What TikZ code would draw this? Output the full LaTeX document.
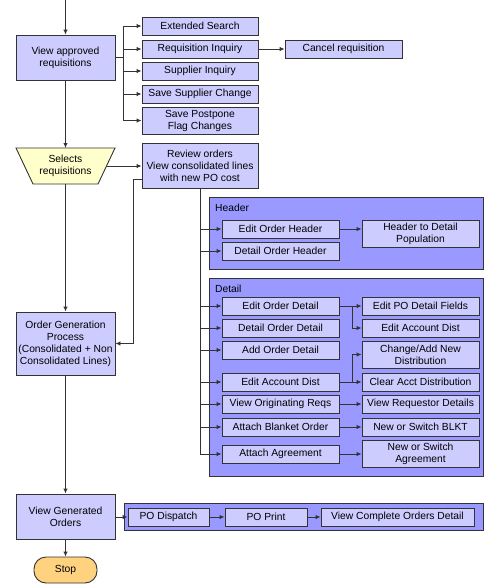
\documentclass[tikz,border=0pt]{standalone}
\usepackage{fontspec}
\setmainfont{Liberation Sans}
\usetikzlibrary{arrows.meta}
\definecolor{linec}{HTML}{333333}
\definecolor{boxfill}{HTML}{CCCCFF}
\definecolor{panelfill}{HTML}{9999FF}
\definecolor{selfill}{HTML}{FFFFCC}
\definecolor{stopfill}{HTML}{FFD280}
\tikzset{
  bx/.style={draw=linec, fill=boxfill, line width=0.9pt, inner sep=1pt, align=center,
    font=\fontsize{10.3}{12}\selectfont, minimum width=117pt, minimum height=18pt},
  panel/.style={draw=linec, fill=panelfill, line width=0.9pt},
  plabel/.style={anchor=west, inner sep=0pt, font=\fontsize{10.3}{12}\selectfont},
  arr/.style={draw=linec, line width=0.9pt, -{Latex[length=5pt,width=4.5pt]}},
  ln/.style={draw=linec, line width=0.9pt},
}
\begin{document}
\begin{tikzpicture}[x=1pt,y=-1pt]
\useasboundingbox (0,0) rectangle (485,587);
% panels
\draw[panel] (209,197) rectangle (483,269);
\node[plabel] (hlab) at (215,208) {Header};
\draw[panel] (209,278) rectangle (483,476);
\node[plabel] (dlab) at (215,289) {Detail};
\draw[panel] (124,503) rectangle (483,530);
% main column
\node[bx, minimum width=99pt, minimum height=45pt] (var) at (65.5,57.5) {View approved\\requisitions};
\draw[ln, fill=selfill] (16,148) -- (115,148) -- (98,184) -- (33,184) -- cycle;
\node[align=center, font=\fontsize{10.3}{12}\selectfont, inner sep=0pt, minimum width=99pt, minimum height=36pt] (sel) at (65.5,166) {Selects\\requisitions};
\node[bx, minimum width=99pt, minimum height=63pt] (ogp) at (65.5,343.5) {Order Generation\\Process\\(Consolidated + Non\\Consolidated Lines)};
\node[bx, minimum width=99pt, minimum height=45pt] (vgo) at (65.5,516.5) {View Generated\\Orders};
\node[bx, fill=stopfill, minimum width=63pt, minimum height=26pt, rounded corners=12pt] (stop) at (65.5,570) {Stop};
% side boxes
\node[bx, minimum width=116pt] (ext) at (200,26) {Extended Search};
\node[bx, minimum width=116pt] (reqinq) at (200,49) {Requisition Inquiry};
\node[bx, minimum width=116pt] (supinq) at (200,71) {Supplier Inquiry};
\node[bx, minimum width=116pt] (savesup) at (200,94) {Save Supplier Change};
\node[bx, minimum width=116pt, minimum height=27pt] (savepost) at (200,120.5) {Save Postpone\\Flag Changes};
\node[bx] (cancel) at (343.5,49) {Cancel requisition};
\node[bx, minimum width=116pt, minimum height=45pt] (rev) at (200,165.5) {Review orders\\View consolidated lines\\with new PO cost};
% header
\node[bx] (eoh) at (280.5,229) {Edit Order Header};
\node[bx] (doh) at (280.5,251) {Detail Order Header};
\node[bx, minimum height=27pt] (hdp) at (420.5,233.5) {Header to Detail\\Population};
% detail left
\node[bx] (eod) at (280.5,306) {Edit Order Detail};
\node[bx] (dod) at (280.5,328) {Detail Order Detail};
\node[bx] (aod) at (280.5,350) {Add Order Detail};
\node[bx] (ead) at (280.5,382) {Edit Account Dist};
\node[bx] (vor) at (280.5,404) {View Originating Reqs};
\node[bx] (abo) at (280.5,427) {Attach Blanket Order};
\node[bx] (aag) at (280.5,454) {Attach Agreement};
% detail right
\node[bx] (epf) at (420.5,306) {Edit PO Detail Fields};
\node[bx] (ead2) at (420.5,328) {Edit Account Dist};
\node[bx, minimum height=27pt] (cand) at (420.5,354.5) {Change/Add New\\Distribution};
\node[bx] (cad) at (420.5,382) {Clear Acct Distribution};
\node[bx] (vrd) at (420.5,404) {View Requestor Details};
\node[bx] (nsb) at (420.5,427) {New or Switch BLKT};
\node[bx, minimum height=27pt] (nsa) at (420.5,454) {New or Switch\\Agreement};
% bottom panel
\node[bx, minimum width=81pt] (pod) at (168.5,517) {PO Dispatch};
\node[bx, minimum width=82pt] (pop) at (266,517) {PO Print};
\node[bx, minimum width=153pt] (vcod) at (397.5,517) {View Complete Orders Detail};
% coordinates
\coordinate (top) at (65.5,0);
\coordinate (busA) at (123,57.5);
\coordinate (selR) at (106.5,166);
\coordinate (selT) at (65.5,148);
\coordinate (selB) at (65.5,184);
\coordinate (revL) at (142,179);
\coordinate (revD) at (133,343.5);
\coordinate (brE) at (352,306);
\coordinate (brC) at (352,382);
% connectors main
\draw[arr] (top) -- (var.north);
\draw[arr] (var.south) -- (selT);
\draw[arr] (selB) -- (ogp.north);
\draw[arr] (ogp.south) -- (vgo.north);
\draw[arr] (vgo.south) -- (stop.north);
\draw[arr] (var.east) -- (busA) |- (ext.west);
\draw[arr] (var.east) -- (busA) |- (reqinq.west);
\draw[arr] (var.east) -- (busA) |- (supinq.west);
\draw[arr] (var.east) -- (busA) |- (savesup.west);
\draw[arr] (var.east) -- (busA) |- (savepost.west);
\draw[arr] (reqinq.east) -- (cancel.west);
\draw[arr] (selR) -- (rev.west |- selR);
\draw[arr] (revL) -| (revD) -- (ogp.east);
% review branches
\foreach \n in {eoh,doh,eod,dod,aod,ead,vor,abo,aag} {
  \draw[arr] (rev.south) |- (\n.west);
}
\draw[arr] (eoh.east) -- (eoh.east -| hdp.west);
\draw[arr] (eod.east) -- (epf.west);
\draw[arr] (brE) |- (ead2.west);
\draw[arr] (ead.east) -- (cad.west);
\draw[arr] (brC) |- (cand.west);
\draw[arr] (vor.east) -- (vrd.west);
\draw[arr] (abo.east) -- (nsb.west);
\draw[arr] (aag.east) -- (nsa.west);
% bottom
\draw[arr] (vgo.east |- pod.west) -- (pod.west);
\draw[arr] (pod.east) -- (pop.west);
\draw[arr] (pop.east) -- (vcod.west);
\end{tikzpicture}
\end{document}
